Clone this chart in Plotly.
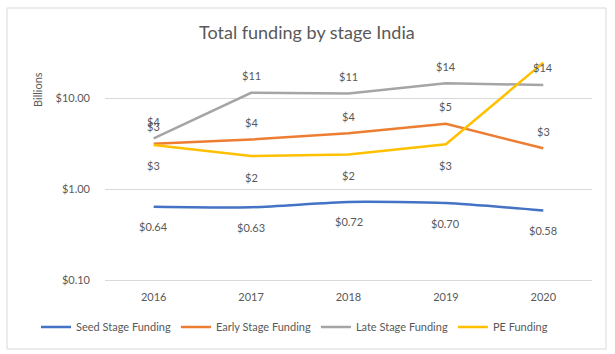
import math
import plotly.graph_objects as go

years = ["2016", "2017", "2018", "2019", "2020"]
seed = [0.64, 0.63, 0.72, 0.70, 0.58]
early = [3.15, 3.5, 4.1, 5.2, 2.8]
late = [3.6, 11.4, 11.2, 14.5, 13.9]
pe = [3.05, 2.3, 2.4, 3.1, 24.5]

seed_lbl = ["$0.64", "$0.63", "$0.72", "$0.70", "$0.58"]
early_lbl = ["$3", "$4", "$4", "$5", "$3"]
late_lbl = ["$4", "$11", "$11", "$14", "$14"]
pe_lbl = ["$3", "$2", "$2", "$3", ""]

FONT = "Lato"
GREY = "#595959"

L, R, T, B = 105, 592, 7, 283  # plot area in pixels
PW, PH = R - L, B - T


def px(x):
    return (x - L) / PW


def py(y):
    return (B - y) / PH


series = [
    ("Seed Stage Funding", seed, seed_lbl, "#4472C4", -20, "spline"),
    ("Early Stage Funding", early, early_lbl, "#ED7D31", 17, "linear"),
    ("Late Stage Funding", late, late_lbl, "#A5A5A5", 17, "linear"),
    ("PE Funding", pe, pe_lbl, "#FFC000", -21, "linear"),
]

fig = go.Figure()
for name, vals, lbls, color, shift, shape in series:
    fig.add_trace(go.Scatter(
        x=years, y=vals, mode="lines", name=name,
        line=dict(color=color, width=2.5, shape=shape, smoothing=0.6),
    ))
    for i, (v, t) in enumerate(zip(vals, lbls)):
        if t:
            fig.add_annotation(
                x=i, y=math.log10(v), xref="x", yref="y", text=t, showarrow=False,
                yshift=shift, font=dict(family=FONT, size=11, color=GREY),
            )

fig.add_annotation(text="Total funding by stage India", xref="paper", yref="paper",
                   x=px(307), y=py(32), showarrow=False,
                   xanchor="center", yanchor="middle",
                   font=dict(family=FONT, size=18, color=GREY))

fig.add_annotation(text="Billions", xref="paper", yref="paper",
                   x=px(37), y=py(90), textangle=-90,
                   showarrow=False, xanchor="center", yanchor="middle",
                   font=dict(family=FONT, size=11, color=GREY))

fig.update_layout(
    width=615, height=354,
    margin=dict(l=L, r=615 - R, t=T, b=354 - B),
    paper_bgcolor="white", plot_bgcolor="white",
    showlegend=True,
    legend=dict(orientation="h", xref="paper", yref="paper",
                x=px(36), xanchor="left", y=py(327), yanchor="middle",
                font=dict(family=FONT, size=11, color=GREY),
                itemwidth=30, tracegroupgap=0, bgcolor="rgba(0,0,0,0)"),
    font=dict(family=FONT, color=GREY),
)

fig.update_xaxes(type="category", range=[-0.5, len(years) - 0.5],
                 showgrid=False, showline=False, ticks="", ticklabelstandoff=6,
                 tickfont=dict(family=FONT, size=11, color=GREY))
fig.update_yaxes(type="log", range=[-1.033, 2], tickvals=[0.1, 1, 10],
                 ticktext=["$0.10", "$1.00", "$10.00"],
                 showgrid=True, gridcolor="#D9D9D9", gridwidth=1,
                 zeroline=False, showline=False, ticks="", ticklabelstandoff=14,
                 tickfont=dict(family=FONT, size=11, color=GREY))

fig.add_shape(type="rect", xref="paper", yref="paper",
              x0=px(7), x1=px(606), y0=py(349), y1=py(8),
              line=dict(color="#D9D9D9", width=1), layer="below")

fig.write_html("out.html")
